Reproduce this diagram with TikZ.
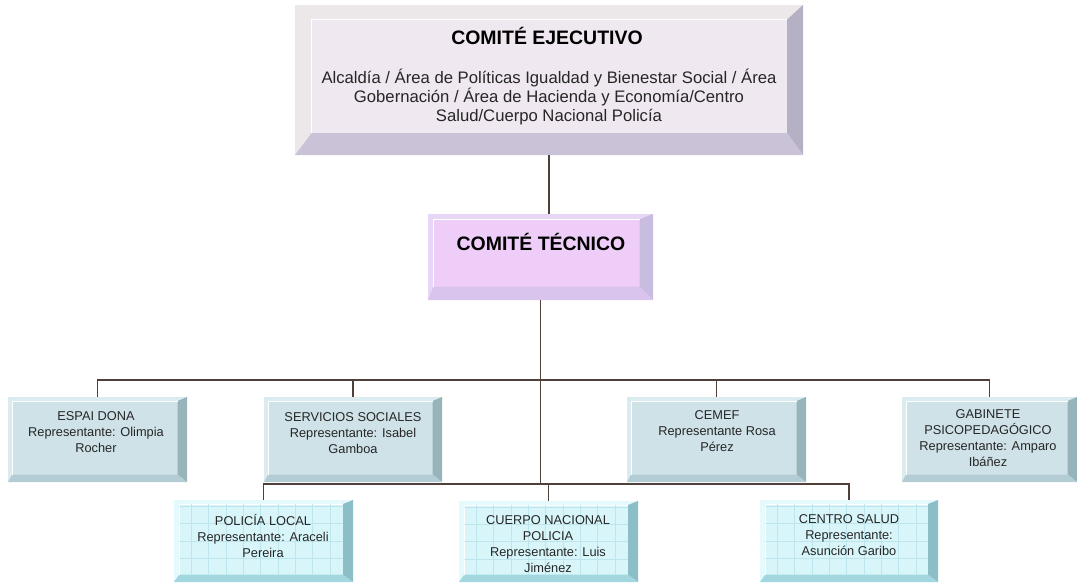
\documentclass[tikz,border=0pt]{standalone}
\usepackage{fontspec}
\setmainfont{Liberation Sans}
\definecolor{ejecface}{RGB}{240, 232, 240}
\definecolor{ejeclight}{RGB}{236, 232, 234}
\definecolor{ejecside}{RGB}{182, 176, 196}
\definecolor{ejecbottom}{RGB}{202, 195, 216}
\definecolor{tecface}{RGB}{238, 206, 248}
\definecolor{teclight}{RGB}{232, 214, 246}
\definecolor{tecside}{RGB}{200, 188, 224}
\definecolor{tecbottom}{RGB}{216, 196, 236}
\definecolor{areaface}{RGB}{206, 226, 232}
\definecolor{arealight}{RGB}{218, 236, 240}
\definecolor{areaside}{RGB}{150, 180, 186}
\definecolor{areabottom}{RGB}{180, 205, 212}
\definecolor{unitface}{RGB}{216, 246, 250}
\definecolor{unitlight}{RGB}{228, 250, 252}
\definecolor{unitside}{RGB}{140, 190, 200}
\definecolor{unitbottom}{RGB}{162, 215, 224}
\definecolor{unitgrid}{RGB}{190, 228, 238}
\definecolor{linkcol}{RGB}{80, 64, 58}
\usepackage{tikz}
\usetikzlibrary{fit, calc}
\tikzset{
    bevel/.style n args={7}{
        path picture={
            \coordinate (bnw) at (path picture bounding box.north west);
            \coordinate (bne) at (path picture bounding box.north east);
            \coordinate (bsw) at (path picture bounding box.south west);
            \coordinate (bse) at (path picture bounding box.south east);
            \fill[#5] (bnw) -- (bne) -- ([shift={(-#3,-#2)}]bne) -- ([shift={(#1,-#2)}]bnw) -- cycle;
            \fill[#5] (bnw) -- ([shift={(#1,-#2)}]bnw) -- ([shift={(#1,#4)}]bsw) -- (bsw) -- cycle;
            \fill[#6] (bne) -- (bse) -- ([shift={(-#3,#4)}]bse) -- ([shift={(-#3,-#2)}]bne) -- cycle;
            \fill[#7] (bsw) -- (bse) -- ([shift={(-#3,#4)}]bse) -- ([shift={(#1,#4)}]bsw) -- cycle;
            \draw[white, line width=0.7pt] ([shift={(#1,#4)}]bsw) -- ([shift={(#1,-#2)}]bnw) -- ([shift={(-#3,-#2)}]bne);
        }
    },
    boxbase/.style={
        rectangle,
        draw=none,
        inner sep=0pt
    },
    ejecbox/.style={boxbase, fill=ejecface,
        bevel={12.5pt}{11pt}{12pt}{16.5pt}{ejeclight}{ejecside}{ejecbottom}},
    tecbox/.style={boxbase, fill=tecface,
        bevel={4pt}{4pt}{10pt}{10pt}{teclight}{tecside}{tecbottom}},
    areabox/.style={boxbase, fill=areaface,
        bevel={3pt}{3pt}{7pt}{5.5pt}{arealight}{areaside}{areabottom}},
    unitbox/.style={boxbase, fill=unitface,
        bevel={4pt}{3pt}{7.5pt}{5.5pt}{unitlight}{unitside}{unitbottom},
        postaction={path picture={
            \clip ([shift={(4pt,5.5pt)}]path picture bounding box.south west) rectangle ([shift={(-7.5pt,-3pt)}]path picture bounding box.north east);
            \draw[unitgrid, line width=0.4pt] (path picture bounding box.south west) grid[xstep=13pt, ystep=13pt] (path picture bounding box.north east);
        }}},
    titletext/.style={align=center, inner sep=0pt, font=\bfseries\fontsize{14.6}{17}\selectfont},
    bodytext/.style={align=center, inner sep=0pt, text=black!85, font=\fontsize{12.5}{13.9}\selectfont},
    smalltext/.style={align=center, inner sep=0pt, text=black!85, font=\fontsize{9.6}{12.2}\selectfont},
    linkstyle/.style={line width=0.9pt, color=linkcol}
}

\begin{document}
\begin{tikzpicture}[x=0.75pt, y=-0.75pt]
          \useasboundingbox (0,0) rectangle (1077,583);

          \node[ejecbox, fit={(295,5) (803,155)}] (ejec) {};
          \node[titletext] (ejectitle) at (547,36) {COMITÉ EJECUTIVO};
          \node[bodytext] (ejectext) at (549,97) {Alcaldía / Área de Políticas Igualdad y Bienestar Social / Área\\Gobernación / Área de Hacienda y Economía/Centro\\Salud/Cuerpo Nacional Policía};

          \node[tecbox, fit={(428,214) (653,300)}] (tec) {};
          \node[titletext] (tectext) at (541,242) {COMITÉ TÉCNICO};

          \node[areabox, fit={(8,397) (187,482)}] (espai) {};
          \node[areabox, fit={(264,397) (442,482)}] (servicios) {};
          \node[areabox, fit={(627,397) (806,482)}] (cemef) {};
          \node[areabox, fit={(902,397) (1077,482)}] (gabinete) {};
          \node[smalltext] (espaitext) at (96,432) {ESPAI DONA\\Representante: Olimpia\\Rocher};
          \node[smalltext] (serviciostext) at (353,433) {SERVICIOS SOCIALES\\Representante: Isabel\\Gamboa};
          \node[smalltext] (cemeftext) at (717,431) {CEMEF\\Representante Rosa\\Pérez};
          \node[smalltext] (gabinetetext) at (988,438) {GABINETE\\PSICOPEDAGÓGICO\\Representante: Amparo\\Ibáñez};

          \node[unitbox, fit={(174,500) (353,582)}] (policia) {};
          \node[unitbox, fit={(459,501) (638,582)}] (cuerpo) {};
          \node[unitbox, fit={(760,500) (938,582)}] (centro) {};
          \node[smalltext] (policiatext) at (263,536) {POLICÍA LOCAL\\Representante: Araceli\\Pereira};
          \node[smalltext] (cuerpotext) at (548,544) {CUERPO NACIONAL\\POLICIA\\Representante: Luis\\Jiménez};
          \node[smalltext] (centrotext) at (849,535) {CENTRO SALUD\\Representante:\\Asunción Garibo};

          \coordinate (busone) at (541,380);
          \coordinate (bustwo) at (541,484);

          \draw[linkstyle] (ejec.south) -- (ejec.south |- tec.north);
          \draw[linkstyle] (tec.south) -- (tec.south |- bustwo);
          \draw[linkstyle] (espai.north) |- (busone -| gabinete.north) -- (gabinete.north);
          \draw[linkstyle] (servicios.north) -- (servicios.north |- busone);
          \draw[linkstyle] (cemef.north) -- (cemef.north |- busone);
          \draw[linkstyle] (policia.north) |- (bustwo -| centro.north) -- (centro.north);
          \draw[linkstyle] (cuerpo.north) -- (cuerpo.north |- bustwo);
        \end{tikzpicture}
\end{document}
